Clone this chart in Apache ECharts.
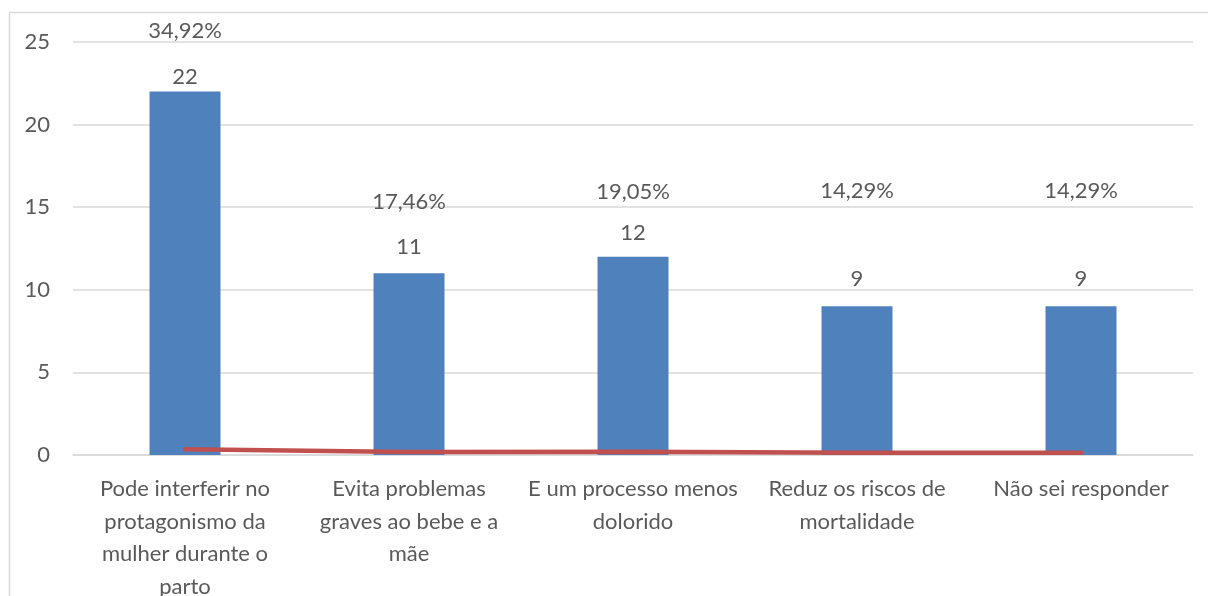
<!DOCTYPE html>
<html>
<head>
<meta charset="utf-8">
<style>
  html, body { margin: 0; padding: 0; background: #ffffff; }
  #chart { width: 1208px; height: 596px; }
</style>
<script src="https://cdn.jsdelivr.net/npm/echarts@6/dist/echarts.min.js"></script>
</head>
<body>
<div id="chart"></div>
<script>
// Answers and how many respondents chose each one
const categories = [
  'Pode interferir no\nprotagonismo da\nmulher durante o\nparto',
  'Evita problemas\ngraves ao bebe e a\nmãe',
  'E um processo menos\ndolorido',
  'Reduz os riscos de\nmortalidade',
  'Não sei responder'
];
const counts = [22, 11, 12, 9, 9];
const shares = [0.3492, 0.1746, 0.1905, 0.1429, 0.1429];
const yTicks = { min: 0, max: 25, interval: 5 };

// Label placement (pixels above the mark)
const countLabelGap = [15, 26, 24, 27, 27];
const shareLabelLift = [417, 249, 259, 261, 261];

const textColor = '#595959';
const fontFamily = 'Lato, "Open Sans", sans-serif';
const fontSize = 22;

const chart = echarts.init(document.getElementById('chart'));

const fmtPct = v => (v * 100).toFixed(2).replace('.', ',') + '%';

chart.setOption({
  animation: false,
  backgroundColor: '#ffffff',
  textStyle: { fontFamily: fontFamily, color: textColor },
  graphic: [{
    type: 'rect',
    shape: { x: 9.5, y: 12.5, width: 1210, height: 600 },
    style: { fill: null, stroke: '#D9D9D9', lineWidth: 1.5 },
    silent: true,
    z: -1
  }],
  grid: { left: 73, right: 15, top: 42, bottom: 141, outerBoundsMode: 'none', containLabel: false },
  xAxis: {
    type: 'category',
    data: categories,
    axisTick: { show: false },
    axisLine: { lineStyle: { color: '#D9D9D9', width: 1.5 } },
    axisLabel: {
      color: textColor,
      fontFamily: fontFamily,
      fontSize: fontSize,
      lineHeight: 32.5,
      margin: 18,
      interval: 0
    }
  },
  yAxis: {
    type: 'value',
    min: yTicks.min,
    max: yTicks.max,
    interval: yTicks.interval,
    axisLine: { show: false },
    axisTick: { show: false },
    splitLine: { lineStyle: { color: '#D9D9D9', width: 1.5 } },
    axisLabel: {
      color: textColor,
      fontFamily: fontFamily,
      fontSize: fontSize,
      margin: 23
    }
  },
  series: [
    {
      name: 'Quantidade',
      type: 'bar',
      data: counts.map((v, i) => ({
        value: v,
        label: { distance: countLabelGap[i] }
      })),
      barWidth: 71,
      itemStyle: { color: '#4F81BD' },
      label: {
        show: true,
        position: 'top',
        verticalAlign: 'middle',
        color: textColor,
        fontFamily: fontFamily,
        fontSize: fontSize
      },
      z: 2
    },
    {
      name: 'Percentual',
      type: 'line',
      data: shares,
      symbol: 'circle',
      symbolSize: 2,
      showSymbol: true,
      itemStyle: { color: 'rgba(192,80,77,0)', borderWidth: 0 },
      lineStyle: { color: '#C0504D', width: 4.5, cap: 'round' },
      labelLayout: p => ({ dy: -shareLabelLift[p.dataIndex], hideOverlap: false }),
      label: {
        show: true,
        position: 'top',
        distance: 0,
        verticalAlign: 'middle',
        color: textColor,
        fontFamily: fontFamily,
        fontSize: fontSize,
        formatter: p => fmtPct(p.value)
      },
      z: 3
    }
  ]
});
</script>
</body>
</html>
